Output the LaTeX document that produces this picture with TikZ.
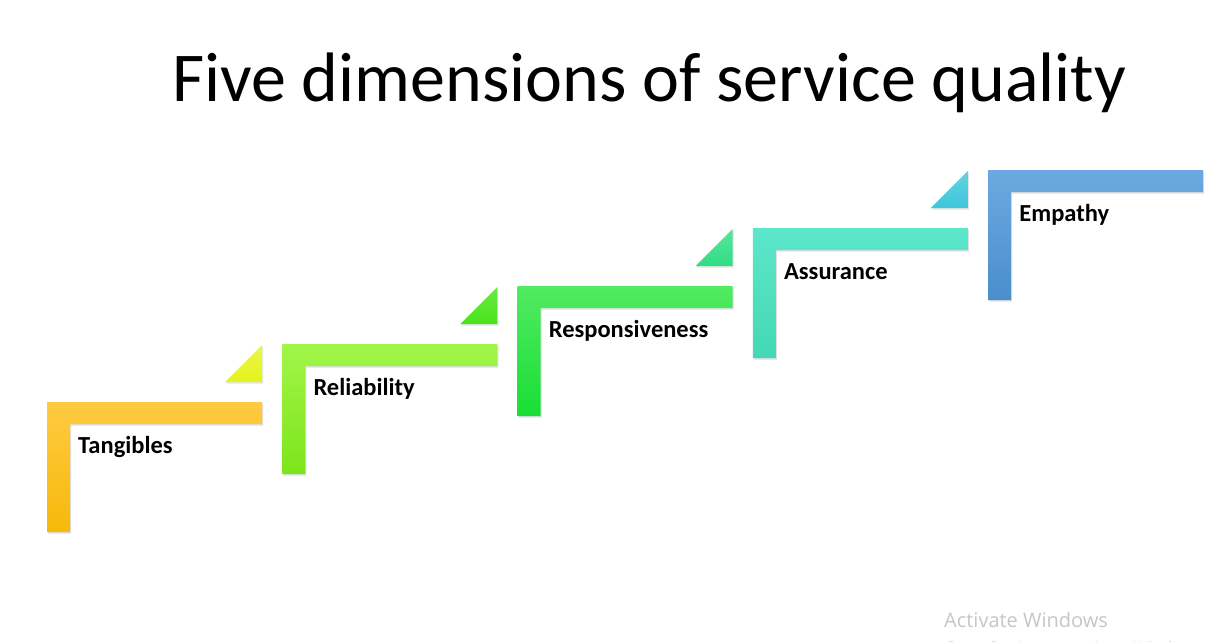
\documentclass[tikz,border=0pt]{standalone}
\usepackage{fontspec}
\setmainfont{Carlito}
\newfontfamily\winfont{Open Sans}
\usetikzlibrary{shadows}
\definecolor{tanTop}{HTML}{FFCA42}
\definecolor{tanBot}{HTML}{F6B90A}
\definecolor{relTop}{HTML}{A2F548}
\definecolor{relBot}{HTML}{7DE51C}
\definecolor{resTop}{HTML}{52EA62}
\definecolor{resBot}{HTML}{18DF35}
\definecolor{assTop}{HTML}{5CE7CA}
\definecolor{assBot}{HTML}{44D8B4}
\definecolor{empTop}{HTML}{6DA9E0}
\definecolor{empBot}{HTML}{4A8ECE}
\definecolor{triA}{HTML}{E4F41C}
\definecolor{triB}{HTML}{48E31A}
\definecolor{triC}{HTML}{2FDE84}
\definecolor{triD}{HTML}{3EC6DA}
\definecolor{wmark}{HTML}{C6C6C6}

\begin{document}
\begin{tikzpicture}[
    x=1pt, y=-1pt,
    every node/.style={inner sep=0pt, anchor=base west},
    label/.style={font=\bfseries\fontsize{24.5}{28}\selectfont},
    stair/.style={drop shadow={shadow xshift=1pt, shadow yshift=-1.5pt, opacity=0.25}},
    wedge/.style={drop shadow={shadow xshift=1pt, shadow yshift=-1.5pt, opacity=0.2}},
]
\clip (0,0) rectangle (1224,641);
\fill[white] (0,0) rectangle (1224,641);
\node[font=\fontsize{70}{76}\selectfont] (title) at (172,101) {Five dimensions of service quality};
% one L-shaped stair per dimension, climbing to the right
\foreach \lab/\name/\ctop/\cbot [count=\i from 0] in
    {Tangibles/tang/tanTop/tanBot, Reliability/reli/relTop/relBot,
     Responsiveness/resp/resTop/resBot, Assurance/assu/assTop/assBot,
     Empathy/empa/empTop/empBot}{
  \pgfmathsetmacro{\xl}{47+235.3*\i}
  \pgfmathsetmacro{\yt}{402-58*\i}
  \path[stair, top color=\ctop, bottom color=\cbot]
    (\xl,\yt) -- ++(215,0) -- ++(0,22) -- ++(-192,0) -- ++(0,108) -- ++(-23,0) -- cycle;
  \node[label] (\name) at (\xl+31,\yt+51) {\lab};
}
% small wedges above the right end of the first four stairs
\foreach \ctri [count=\i from 0] in {triA, triB, triC, triD}{
  \pgfmathsetmacro{\xr}{262+235.3*\i}
  \pgfmathsetmacro{\yb}{382-58*\i}
  \path[wedge, top color=\ctri!80!white, bottom color=\ctri]
    (\xr,\yb) -- (\xr,\yb-37) -- (\xr-37,\yb) -- cycle;
}
\node[font=\winfont\fontsize{20}{23}\selectfont, text=wmark] (act) at (944,627) {Activate Windows};
\node[font=\winfont\fontsize{16}{19}\selectfont, text=wmark] (goto) at (944,653) {Go to Settings to activate Windows.};
\end{tikzpicture}
\end{document}
